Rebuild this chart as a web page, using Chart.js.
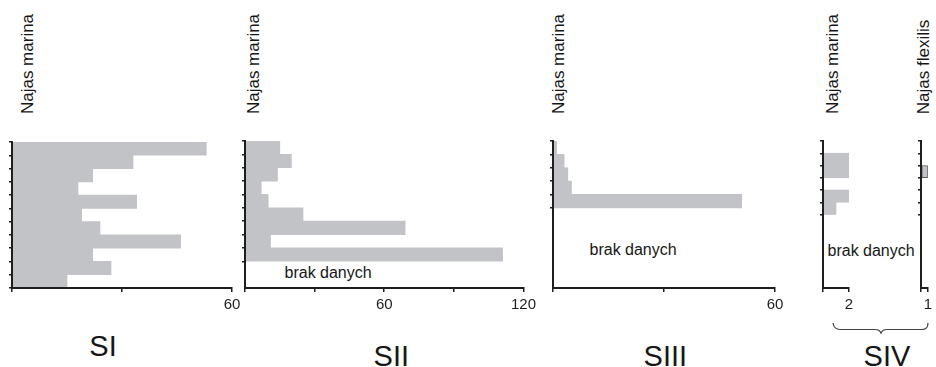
<!DOCTYPE html>
<html><head><meta charset="utf-8">
<script src="https://cdn.jsdelivr.net/npm/chart.js@4.4.1/dist/chart.umd.min.js"></script>
<style>
body{margin:0;background:#fff;width:936px;height:367px;overflow:hidden;position:relative;font-family:"Liberation Sans",Arial,sans-serif;color:#161616}
canvas{position:absolute}
.t{position:absolute;white-space:nowrap;font-size:17px;line-height:17px;transform:translate(-50%,-50%) rotate(-90deg)}
.nd{position:absolute;white-space:nowrap;font-size:16px;line-height:16px}
.s{position:absolute;white-space:nowrap;font-size:29px;line-height:29px}
svg{position:absolute;left:0;top:0}
</style></head><body>
<div class="t" style="left:26.8px;top:64.2px">Najas marina</div>
<div class="t" style="left:252.5px;top:64.2px">Najas marina</div>
<div class="t" style="left:557.5px;top:64.2px">Najas marina</div>
<div class="t" style="left:831.8px;top:64.2px">Najas marina</div>
<div class="t" style="left:922.5px;top:66.7px">Najas flexilis</div>
<div class="nd" style="left:284.5px;top:264.9px">brak danych</div>
<div class="nd" style="left:589.5px;top:241.5px">brak danych</div>
<div class="nd" style="left:827.5px;top:242.5px">brak danych</div>
<div class="s" style="left:89.3px;top:332.3px">SI</div>
<div class="s" style="left:373.6px;top:341.5px">SII</div>
<div class="s" style="left:643.6px;top:341.5px">SIII</div>
<div class="s" style="left:863.6px;top:341.5px">SIV</div>
<svg width="936" height="367"><path d="M833,323 Q834,329.5 840,329.5 L875,329.5 Q880,329.5 881,333.5 Q882,329.5 887,329.5 L922,329.5 Q928,329.5 928,323" fill="none" stroke="#444" stroke-width="1.2"/></svg>
<script>
// rows (sampling levels, top to bottom)
const rows11 = ['1','2','3','4','5','6','7','8','9','10','11'];
const rows12 = ['1','2','3','4','5','6','7','8','9','10','11','12'];
// values per site
const siMarina   = [53, 33, 22, 18, 34, 19, 24, 46, 22, 27, 15];
const siiMarina  = [15, 20, 14, 7, 10, 25, 69, 11, 111, null, null];
const siiiMarina = [1, 3, 4, 5, 51, null, null, null, null, null, null];
const sivMarina  = [0, 2, 2, 0, 2, 1, null, null, null, null, null, null];
const sivFlexilis= [0, 0, 1, 0, 0, 0, null, null, null, null, null, null];
// labelled x ticks
const siTickLabels   = [60];
const siiTickLabels  = [60, 120];
const siiiTickLabels = [60];
const sivMarinaTickLabels = [2];
const sivFlexTickLabels   = [1];

const BAR = '#c2c3c6', AX = '#1e1e1e';

function makePanel(p){
  const yW = 10, padT = 4, xH = 30;
  const c = document.createElement('canvas');
  const w = (p.r - p.l) + yW + p.padR, h = (p.b - p.t) + padT + xH;
  c.width = w; c.height = h;
  c.style.left = (p.l - yW) + 'px'; c.style.top = (p.t - padT) + 'px';
  document.body.appendChild(c);
  new Chart(c, {
    type: 'bar',
    data: { labels: p.labels, datasets: [{
      data: p.values, backgroundColor: BAR,
      borderColor: p.border ? '#555' : BAR, borderWidth: p.border ? 1 : 0, borderSkipped: false,
      barPercentage: 1, categoryPercentage: 1 }] },
    options: {
      indexAxis: 'y', responsive: false, animation: false, events: [],
      layout: { padding: { top: padT, right: p.padR, left: 0, bottom: 0 } },
      plugins: { legend: { display: false }, tooltip: { enabled: false } },
      scales: {
        y: { type: 'category', offset: true, ticks: { display: false },
             grid: { offset: true, drawOnChartArea: false, drawTicks: true, tickLength: 3, lineWidth: 1.5, z: 1,
                     color: ctx => { const i = ctx.index === undefined ? p.labels.length : ctx.index; return i <= p.nData ? AX : 'rgba(0,0,0,0)'; } },
             border: { display: true, color: AX, width: 2, z: 1 },
             afterFit: s => { s.width = yW; } },
        x: { type: 'linear', min: 0, max: p.max,
             ticks: { stepSize: p.step, autoSkip: false, maxRotation: 0, padding: 4, color: AX,
                      font: { family: '"Liberation Sans", Arial, sans-serif', size: 15 },
                      callback: v => p.tickLabels.includes(v) ? String(v) : '' },
             grid: { drawOnChartArea: false, tickLength: 4, lineWidth: 1.5, color: AX, z: 1 },
             border: { display: true, color: AX, width: 2, z: 1 },
             afterFit: s => { s.height = xH; } }
      }
    }
  });
}

makePanel({labels: rows11, values: siMarina,   max: 60,  step: 30, tickLabels: siTickLabels,   nData: 11, l: 12,  r: 232, t: 142, b: 288, padR: 16});
makePanel({labels: rows11, values: siiMarina,  max: 120, step: 30, tickLabels: siiTickLabels,  nData: 9,  l: 245, r: 524, t: 141, b: 288, padR: 16});
makePanel({labels: rows11, values: siiiMarina, max: 60,  step: 30, tickLabels: siiiTickLabels, nData: 5,  l: 553, r: 775, t: 141, b: 288, padR: 16});
makePanel({labels: rows12, values: sivMarina,  max: 2,   step: 2,  tickLabels: sivMarinaTickLabels, nData: 6, l: 823, r: 849, t: 141, b: 288, padR: 10});
makePanel({labels: rows12, values: sivFlexilis,max: 1,   step: 1,  tickLabels: sivFlexTickLabels,   nData: 6, l: 921, r: 931, t: 141, b: 288, padR: 5, border: true});
</script>
</body></html>
